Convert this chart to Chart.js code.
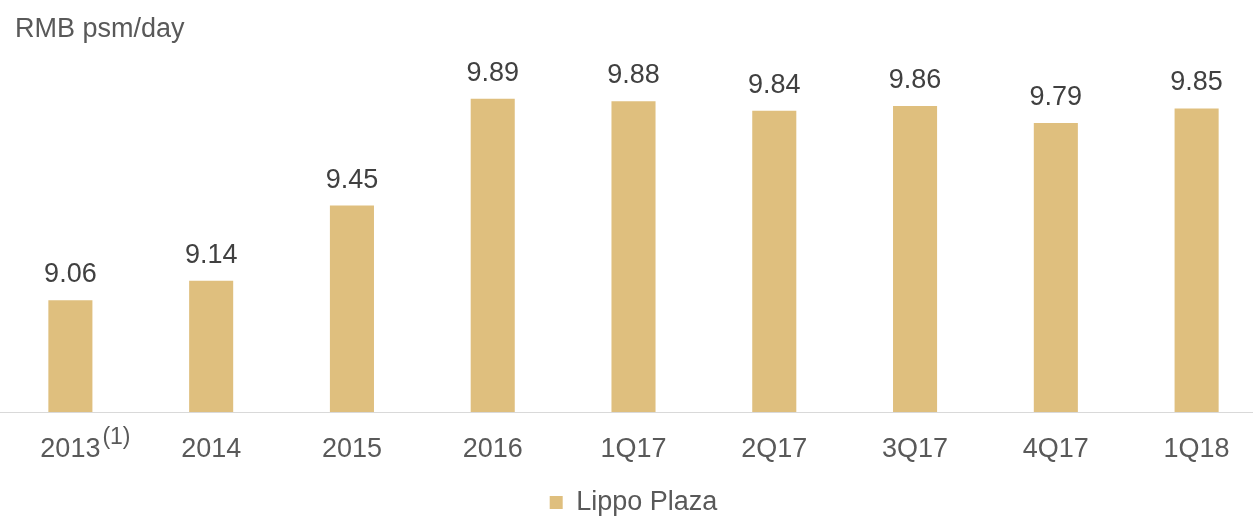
<!DOCTYPE html>
<html>
<head>
<meta charset="utf-8">
<script src="https://cdn.jsdelivr.net/npm/chart.js@4"></script>
<style>
  html, body { margin: 0; padding: 0; background: #fff; overflow: hidden; }
  #wrap { position: relative; width: 1253px; height: 516px; overflow: hidden; }
  #inner { position: absolute; left: 0; top: 0; width: 1267px; height: 516px; }
  #ttl { position: absolute; left: 15px; top: 15px; font: 27px 'Liberation Sans', Arial, sans-serif; line-height: 27px; color: #595959; white-space: nowrap; }
</style>
</head>
<body>
<div id="wrap">
  <div id="inner"><canvas id="c"></canvas></div>
  <div id="ttl">RMB psm/day</div>
</div>
<script>
const categories = ['2013', '2014', '2015', '2016', '1Q17', '2Q17', '3Q17', '4Q17', '1Q18'];
const seriesName = 'Lippo Plaza';
const rentValues = [9.06, 9.14, 9.45, 9.89, 9.88, 9.84, 9.86, 9.79, 9.85];
const footnoteMarks = ['(1)', '', '', '', '', '', '', '', ''];

Chart.defaults.font.family = "'Liberation Sans', Arial, sans-serif";

const BOTTOM_PAD = -10;

const valueLabels = {
  id: 'valueLabels',
  afterDatasetsDraw(chart) {
    const ctx = chart.ctx;
    const meta = chart.getDatasetMeta(0);
    ctx.save();
    ctx.font = "27px 'Liberation Sans', Arial, sans-serif";
    ctx.fillStyle = '#404040';
    ctx.textAlign = 'center';
    ctx.textBaseline = 'alphabetic';
    meta.data.forEach((bar, i) => {
      ctx.fillText(rentValues[i].toFixed(2), bar.x, bar.y - 18);
    });
    ctx.restore();
  }
};

const footnotes = {
  id: 'footnotes',
  afterDraw(chart) {
    const ctx = chart.ctx;
    const xs = chart.scales.x;
    ctx.save();
    footnoteMarks.forEach((m, i) => {
      if (!m) return;
      ctx.font = "27px 'Liberation Sans', Arial, sans-serif";
      const w = ctx.measureText(categories[i]).width;
      const x = xs.getPixelForTick(i) + w / 2 + 2;
      ctx.font = "23px 'Liberation Sans', Arial, sans-serif";
      ctx.fillStyle = '#595959';
      ctx.textAlign = 'left';
      ctx.textBaseline = 'alphabetic';
      ctx.fillText(m, x, 444);
    });
    ctx.restore();
  }
};

new Chart(document.getElementById('c'), {
  type: 'bar',
  data: {
    labels: categories,
    datasets: [{
      label: seriesName,
      data: rentValues,
      backgroundColor: '#DFBF7E',
      borderWidth: 0,
      categoryPercentage: 1.0,
      barPercentage: 0.313
    }]
  },
  options: {
    responsive: true,
    maintainAspectRatio: false,
    animation: false,
    layout: { padding: { top: 72, left: 0, right: 0, bottom: BOTTOM_PAD } },
    plugins: {
      legend: {
        position: 'bottom',
        labels: {
          boxWidth: 13,
          boxHeight: 13,
          color: '#595959',
          font: { size: 27 },
          padding: 0
        }
      },
      tooltip: { enabled: false }
    },
    scales: {
      x: {
        grid: { display: false, drawTicks: false },
        border: { display: true, color: '#d9d9d9', width: 1 },
        ticks: { color: '#595959', font: { size: 27 }, padding: 21, maxRotation: 0, autoSkip: false },
        afterFit(scale) {
          const lg = scale.chart.legend;
          const lh = lg ? lg.height : 0;
          scale.height = 516 - BOTTOM_PAD - lh - 412;
        }
      },
      y: {
        display: false,
        min: 8.6,
        max: 10.0
      }
    }
  },
  plugins: [valueLabels, footnotes]
});
</script>
</body>
</html>
